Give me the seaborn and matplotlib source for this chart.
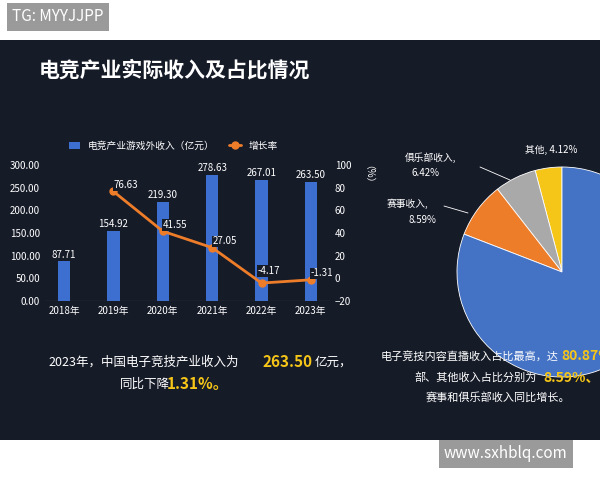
import matplotlib
matplotlib.use("Agg")
import matplotlib.pyplot as plt
import seaborn as sns
import pandas as pd

sns.set_theme(style="dark")
plt.rcParams['font.family'] = ['Noto Sans CJK SC', 'DejaVu Sans']

years = ["2018年", "2019年", "2020年", "2021年", "2022年", "2023年"]
revenue = [87.71, 154.92, 219.30, 278.63, 267.01, 263.50]
growth = [None, 76.63, 41.55, 27.05, -4.17, -1.31]
pie_labels = ["其他", "俱乐部收入", "赛事收入", "直播收入"]
pie_vals = [4.12, 6.42, 8.59, 80.87]
pie_colors = ["#f5c518", "#a9a9a9", "#ee7d2a", "#4472c4"]

BG = "#161b28"
fig = plt.figure(figsize=(6, 4.8), dpi=100, facecolor="white")
panel = fig.add_axes([0, 1 - 440/480, 1, 400/480])
panel.set_facecolor(BG); panel.set_xticks([]); panel.set_yticks([])
for s in panel.spines.values(): s.set_visible(False)

fig.text(0.02, 0.965, "TG: MYYJJPP", color="white", fontsize=11, va="center",
         bbox=dict(fc="#9a9a9a", ec="none", pad=4))
fig.text(0.74, 0.055, "www.sxhblq.com", color="white", fontsize=11, va="center",
         bbox=dict(fc="#9a9a9a", ec="none", pad=4))
fig.text(0.065, 1 - 70/480, "电竞产业实际收入及占比情况", color="white", fontsize=15,
         fontweight="bold", va="center")

ax = fig.add_axes([0.075, 1 - 301/480, 0.475, 136/480])
ax.set_facecolor(BG)
df = pd.DataFrame({"year": years, "rev": revenue})
sns.barplot(data=df, x="year", y="rev", color="#3d6fd0", width=0.25, ax=ax,
            edgecolor="none", saturation=1, label="电竞产业游戏外收入（亿元）")
ax.set_ylim(0, 300)
ax.set_yticks(range(0, 301, 50))
ax.set_yticklabels([f"{v:.2f}" for v in range(0, 301, 50)], color="white", fontsize=7)
ax.tick_params(axis="x", colors="white", labelsize=7, length=0)
ax.tick_params(axis="y", length=0)
ax.set_xlabel(""); ax.set_ylabel("")
for s in ax.spines.values(): s.set_visible(False)
ax.axhline(0, color="#888888", lw=0.8)
for i, v in enumerate(revenue):
    ax.text(i, v + 8, f"{v:.2f}", color="white", fontsize=7, ha="center")

ax2 = ax.twinx()
xs = [1, 2, 3, 4, 5]
gv = growth[1:]
ax2.plot(xs, gv, color="#ee7d2a", lw=2, marker="o", ms=5, label="增长率")
ax2.set_ylim(-20, 100)
ax2.set_yticks(range(-20, 101, 20))
ax2.tick_params(axis="y", colors="white", labelsize=7, length=0)
for s in ax2.spines.values(): s.set_visible(False)
offs = [(0.25, 3), (0.25, 3), (0.25, 3), (0.15, 8), (0.22, 3)]
for (x, v), (dx, dy) in zip(zip(xs, gv), offs):
    ax2.text(x + dx, v + dy, f"{v:.2f}", color="white", fontsize=7, ha="center",
             bbox=dict(fc=BG, ec="none", pad=0.5))
ax2.text(1.1, 1.0, "（%）", transform=ax.transAxes, color="white", fontsize=7,
         rotation=-90, va="top")
h1, l1 = ax.get_legend_handles_labels()
h2, l2 = ax2.get_legend_handles_labels()
leg = ax.legend(h1 + h2, l1 + l2, loc="lower center", bbox_to_anchor=(0.45, 1.04),
                ncol=2, frameon=False, fontsize=7, labelcolor="white",
                handlelength=1.2, columnspacing=1.5)

fig.text(0.08, 1 - 362/480, "2023年，中国电子竞技产业收入为", color="white", fontsize=9, va="center")
fig.text(0.437, 1 - 362/480, "263.50", color="#f5c518", fontsize=11, fontweight="bold", va="center")
fig.text(0.525, 1 - 362/480, "亿元，", color="white", fontsize=9, va="center")
fig.text(0.2, 1 - 384/480, "同比下降", color="white", fontsize=9, va="center")
fig.text(0.278, 1 - 384/480, "1.31%。", color="#f5c518", fontsize=11, fontweight="bold", va="center")

pax = fig.add_axes([457/600, 1 - 377/480, 210/600, 210/480])
pax.pie(pie_vals, colors=pie_colors, startangle=90, counterclock=True,
        wedgeprops=dict(ec="white", lw=0.6))
pax.set_aspect("equal")
pax.set_xlim(-1, 1); pax.set_ylim(-1, 1)
pax.set_facecolor(BG)

fig.text(0.875, 1 - 150/480, "其他, 4.12%", color="white", fontsize=7, va="center")
fig.text(0.675, 1 - 158/480, "俱乐部收入,", color="white", fontsize=7, va="center")
fig.text(0.685, 1 - 173/480, "6.42%", color="white", fontsize=7, va="center")
fig.text(0.645, 1 - 204/480, "赛事收入,", color="white", fontsize=7, va="center")
fig.text(0.68, 1 - 220/480, "8.59%", color="white", fontsize=7, va="center")
fig.add_artist(plt.Line2D([0.8, 0.85], [1 - 167/480, 1 - 180/480], color="white", lw=0.6))
fig.add_artist(plt.Line2D([0.74, 0.78], [1 - 206/480, 1 - 213/480], color="white", lw=0.6))

fig.text(0.635, 1 - 356/480, "电子竞技内容直播收入占比最高，达", color="white", fontsize=8, va="center")
fig.text(0.935, 1 - 356/480, "80.87%", color="#f5c518", fontsize=10, fontweight="bold", va="center")
fig.text(0.69, 1 - 377/480, "部、其他收入占比分别为", color="white", fontsize=8, va="center")
fig.text(0.905, 1 - 377/480, "8.59%、6.42%", color="#f5c518", fontsize=10, fontweight="bold", va="center")
fig.text(0.71, 1 - 397/480, "赛事和俱乐部收入同比增长。", color="white", fontsize=8, va="center")

fig.savefig("out.png", dpi=100, facecolor="white")
